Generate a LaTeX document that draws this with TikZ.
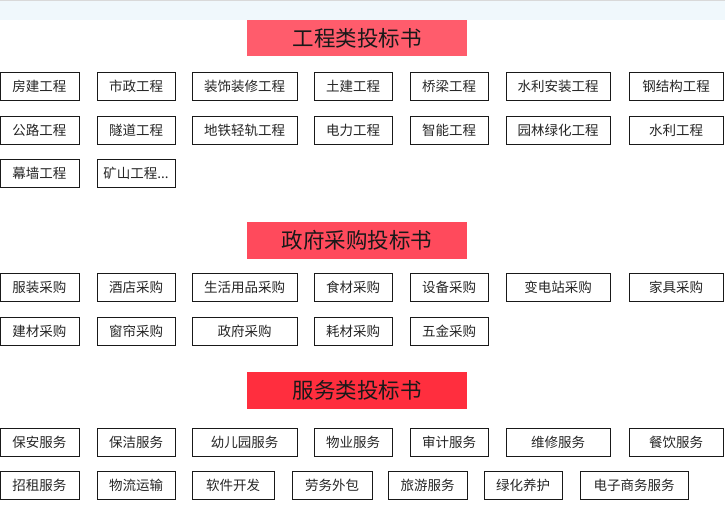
\documentclass[tikz,border=0pt]{standalone}
\usepackage{fontspec}
\usepackage{tikz}
\usetikzlibrary{positioning,shadows}
\newfontfamily\cjk{Noto Sans CJK SC}
\definecolor{headone}{RGB}{255,92,108}
\definecolor{headtwo}{RGB}{255,74,92}
\definecolor{headthree}{RGB}{255,46,62}
\definecolor{topband}{RGB}{240,248,252}
\tikzset{itemnode/.style={rectangle, draw=black!90, fill=white, line width=0.9pt, minimum height=28pt, inner sep=0pt, text=black!85, font=\cjk\fontsize{13.5}{16}\selectfont, drop shadow={shadow xshift=1.1pt, shadow yshift=0pt, fill=black!80, opacity=1}},
headnode/.style={rectangle, minimum width=220pt, minimum height=36.5pt, inner sep=0pt, text=black!90, font=\cjk\fontsize{21.5}{24}\selectfont},}

\begin{document}
\begin{tikzpicture}[x=1pt, y=-1pt]
\useasboundingbox (0,0) rectangle (725,525);
\fill[topband] (0,0) rectangle (725,20);
\draw[black!15] (0,0.5) -- (725,0.5);
% 工程类
\node [headnode, fill=headone] (h1) at (357,38) {工程类投标书};
\node [itemnode, minimum width=79pt] (gc1) at (39.5,86) {房建工程};
\node [itemnode, minimum width=78pt] (gc2) at (136,86) {市政工程};
\node [itemnode, minimum width=105pt] (gc3) at (244.5,86) {装饰装修工程};
\node [itemnode, minimum width=78pt] (gc4) at (353,86) {土建工程};
\node [itemnode, minimum width=78pt] (gc5) at (449,86) {桥梁工程};
\node [itemnode, minimum width=104pt] (gc6) at (558,86) {水利安装工程};
\node [itemnode, minimum width=94pt] (gc7) at (676,86) {钢结构工程};
\node [itemnode, minimum width=79pt] (gc8) at (39.5,130) {公路工程};
\node [itemnode, minimum width=78pt] (gc9) at (136,130) {隧道工程};
\node [itemnode, minimum width=105pt] (gc10) at (244.5,130) {地铁轻轨工程};
\node [itemnode, minimum width=78pt] (gc11) at (353,130) {电力工程};
\node [itemnode, minimum width=78pt] (gc12) at (449,130) {智能工程};
\node [itemnode, minimum width=104pt] (gc13) at (558,130) {园林绿化工程};
\node [itemnode, minimum width=94pt] (gc14) at (676,130) {水利工程};
\node [itemnode, minimum width=79pt] (gc15) at (39.5,173) {幕墙工程};
\node [itemnode, minimum width=78pt] (gc16) at (136,173) {矿山工程...};
% 政府采购
\node [headnode, fill=headtwo] (h2) at (357,240.5) {政府采购投标书};
\node [itemnode, minimum width=79pt] (cg1) at (39.5,287.5) {服装采购};
\node [itemnode, minimum width=78pt] (cg2) at (136,287.5) {酒店采购};
\node [itemnode, minimum width=105pt] (cg3) at (244.5,287.5) {生活用品采购};
\node [itemnode, minimum width=78pt] (cg4) at (353,287.5) {食材采购};
\node [itemnode, minimum width=78pt] (cg5) at (449,287.5) {设备采购};
\node [itemnode, minimum width=104pt] (cg6) at (558,287.5) {变电站采购};
\node [itemnode, minimum width=94pt] (cg7) at (676,287.5) {家具采购};
\node [itemnode, minimum width=79pt] (cg8) at (39.5,331) {建材采购};
\node [itemnode, minimum width=78pt] (cg9) at (136,331) {窗帘采购};
\node [itemnode, minimum width=105pt] (cg10) at (244.5,331) {政府采购};
\node [itemnode, minimum width=78pt] (cg11) at (353,331) {耗材采购};
\node [itemnode, minimum width=78pt] (cg12) at (449,331) {五金采购};
% 服务类
\node [headnode, fill=headthree] (h3) at (357,390.5) {服务类投标书};
\node [itemnode, minimum width=79pt] (fw1) at (39.5,442) {保安服务};
\node [itemnode, minimum width=78pt] (fw2) at (136,442) {保洁服务};
\node [itemnode, minimum width=105pt] (fw3) at (244.5,442) {幼儿园服务};
\node [itemnode, minimum width=78pt] (fw4) at (353,442) {物业服务};
\node [itemnode, minimum width=78pt] (fw5) at (449,442) {审计服务};
\node [itemnode, minimum width=104pt] (fw6) at (558,442) {维修服务};
\node [itemnode, minimum width=94pt] (fw7) at (676,442) {餐饮服务};
\node [itemnode, minimum width=79pt] (fw8) at (39.5,485.5) {招租服务};
\node [itemnode, minimum width=78pt] (fw9) at (136,485.5) {物流运输};
\node [itemnode, minimum width=82pt] (fw10) at (233,485.5) {软件开发};
\node [itemnode, minimum width=80pt] (fw11) at (332,485.5) {劳务外包};
\node [itemnode, minimum width=79pt] (fw12) at (427.5,485.5) {旅游服务};
\node [itemnode, minimum width=78pt] (fw13) at (523,485.5) {绿化养护};
\node [itemnode, minimum width=108pt] (fw14) at (634,485.5) {电子商务服务};
\end{tikzpicture}
\end{document}
